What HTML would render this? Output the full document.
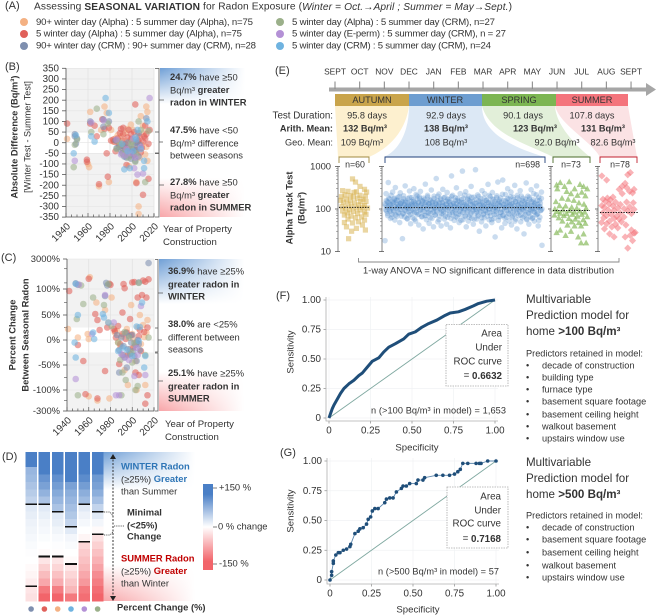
<!DOCTYPE html>
<html><head><meta charset="utf-8"><title>Seasonal variation for radon exposure</title>
<style>
html,body{margin:0;padding:0;background:#fff}
svg{display:block}
text{font-family:"Liberation Sans",sans-serif;fill:#333;dominant-baseline:middle}
.b{font-weight:bold}
</style></head>
<body>
<svg id="fig" width="658" height="616" viewBox="0 0 658 616" xmlns="http://www.w3.org/2000/svg">
<defs>
<linearGradient id="gb" x1="0" y1="0" x2="0" y2="1"><stop offset="0" stop-color="#6f9fd6"/><stop offset="1" stop-color="#fff"/></linearGradient>
<linearGradient id="gr" x1="0" y1="0" x2="0" y2="1"><stop offset="0" stop-color="#fff"/><stop offset="1" stop-color="#f8a5a8"/></linearGradient>
<linearGradient id="gw" x1="0" y1="0" x2="1" y2="0"><stop offset="0" stop-color="#fff" stop-opacity="0"/><stop offset="1" stop-color="#fff"/></linearGradient>
<linearGradient id="cbar" x1="0" y1="0" x2="0" y2="1"><stop offset="0" stop-color="#4a7fc6"/><stop offset=".12" stop-color="#4a7fc6"/><stop offset=".5" stop-color="#fff"/><stop offset=".9" stop-color="#f2646a"/><stop offset="1" stop-color="#f2646a"/></linearGradient>
</defs>

<!-- Panel A -->
<g>
<text x="5" y="6" font-size="11">(A)</text>
<text x="34" y="7" font-size="10.2" textLength="478">Assessing <tspan class="b">SEASONAL VARIATION</tspan> for Radon Exposure (<tspan font-style="italic">Winter = Oct.→April ; Summer = May→Sept.</tspan>)</text>
<circle cx="24" cy="22" r="4" fill="#f4b183"/>
<text x="36" y="22.5" font-size="9.6" fill="#444" textLength="217">90+ winter day (Alpha) : 5 summer day (Alpha), n=75</text>
<circle cx="24" cy="34" r="4" fill="#e0605a"/>
<text x="36" y="34" font-size="9.6" fill="#444" textLength="206">5 winter day (Alpha) : 5 summer day (Alpha), n=75</text>
<circle cx="24" cy="46" r="4" fill="#7e8faf"/>
<text x="36" y="46" font-size="9.6" fill="#444" textLength="220">90+ winter day (CRM) : 90+ summer day (CRM), n=28</text>
<circle cx="280" cy="22" r="4" fill="#9bb08a"/>
<text x="292" y="22.5" font-size="9.6" fill="#444" textLength="203">5 winter day (Alpha) : 5 summer day (CRM), n=27</text>
<circle cx="280" cy="34" r="4" fill="#b491d6"/>
<text x="292" y="34" font-size="9.6" fill="#444" textLength="214">5 winter day (E-perm) : 5 summer day (CRM), n = 27</text>
<circle cx="280" cy="46" r="4" fill="#6fb3e0"/>
<text x="292" y="46" font-size="9.6" fill="#444" textLength="199">5 winter day (CRM) : 5 summer day (CRM), n=24</text>
</g>

<!-- Gradient panels -->
<g>
<rect x="160" y="68" width="85" height="36" fill="url(#gb)"/><rect x="160" y="68" width="85" height="36" fill="url(#gw)"/>
<rect x="160" y="178" width="85" height="39" fill="url(#gr)"/><rect x="160" y="178" width="85" height="39" fill="url(#gw)"/>
<rect x="159" y="259" width="85" height="45" fill="url(#gb)"/><rect x="159" y="259" width="85" height="45" fill="url(#gw)"/>
<rect x="159" y="372" width="85" height="39" fill="url(#gr)"/><rect x="159" y="372" width="85" height="39" fill="url(#gw)"/>
<rect x="103" y="452" width="92" height="38" fill="url(#gb)"/><rect x="103" y="452" width="92" height="38" fill="url(#gw)"/>
<rect x="103" y="565" width="92" height="36" fill="url(#gr)"/><rect x="103" y="565" width="92" height="36" fill="url(#gw)"/>
</g>

<!-- Panel B static -->
<text x="5" y="67" font-size="11">(B)</text>
<g id="plotB"></g>
<text transform="translate(15,137) rotate(-90)" text-anchor="middle" font-size="9.3" class="b">Absolute Difference (Bq/m³)</text>
<text transform="translate(28,137) rotate(-90)" text-anchor="middle" font-size="9.1">[Winter Test - Summer Test]</text>
<path d="M155 68.5H159V132M159 100H164M155 132H159V153H155M159 142H163M155 153.5H159V217H155M159 185H164" fill="none" stroke="#555" stroke-width=".8"/>
<g font-size="9.4">
<text x="170" y="78"><tspan class="b">24.7%</tspan> have ≥50</text>
<text x="170" y="91">Bq/m³ <tspan class="b">greater</tspan></text>
<text x="170" y="103" class="b">radon in WINTER</text>
<text x="170" y="131"><tspan class="b">47.5%</tspan> have &lt;50</text>
<text x="170" y="144">Bq/m³ difference</text>
<text x="170" y="156">between seasons</text>
<text x="170" y="183"><tspan class="b">27.8%</tspan> have ≥50</text>
<text x="170" y="196">Bq/m³ <tspan class="b">greater</tspan></text>
<text x="170" y="208" class="b">radon in SUMMER</text>
</g>
<text font-size="9.6" fill="#555"><tspan x="163" y="229">Year of Property</tspan><tspan x="163" y="242">Construction</tspan></text>

<!-- Panel C static -->
<text x="1" y="258" font-size="11">(C)</text>
<g id="plotC"></g>
<text transform="translate(13,335) rotate(-90)" text-anchor="middle" font-size="9.3" class="b">Percent Change</text>
<text transform="translate(26,335) rotate(-90)" text-anchor="middle" font-size="9.3" class="b">Between Seasonal Radon</text>
<path d="M155 259.5H158V328M158 293H163M155 328H158V352H155M158 340H162M155 353H158V411H155M158 381H163" fill="none" stroke="#555" stroke-width=".8"/>
<g font-size="9.4">
<text x="168" y="272"><tspan class="b">36.9%</tspan> have ≥25%</text>
<text x="168" y="285" class="b">greater radon in</text>
<text x="168" y="297" class="b">WINTER</text>
<text x="168" y="325"><tspan class="b">38.0%</tspan> are &lt;25%</text>
<text x="168" y="338">different between</text>
<text x="168" y="350">seasons</text>
<text x="168" y="374"><tspan class="b">25.1%</tspan> have ≥25%</text>
<text x="168" y="387" class="b">greater radon in</text>
<text x="168" y="399" class="b">SUMMER</text>
</g>
<text font-size="9.6" fill="#555"><tspan x="165" y="424">Year of Property</tspan><tspan x="165" y="437">Construction</tspan></text>

<!-- Panel D static -->
<text x="2" y="457" font-size="11">(D)</text>
<g id="heat" shape-rendering="crispEdges"></g>
<path d="M113 456V598" stroke="#222" stroke-width=".9" stroke-dasharray="2 1.5" fill="none"/>
<path d="M110 459L113 454L116 459ZM110 596L113 601L116 596Z" fill="#222"/>
<path d="M104 512H110L113 516M104 535H110L113 532M114 526H124" fill="none" stroke="#333" stroke-width=".8" stroke-dasharray="1.2 1"/>
<g font-size="9.4">
<text x="121" y="467" style="fill:#2e75b6" class="b">WINTER Radon</text>
<text x="121" y="480">(≥25%) <tspan class="b" style="fill:#2e75b6">Greater</tspan></text>
<text x="121" y="492">than Summer</text>
<text x="127" y="513" class="b">Minimal</text>
<text x="127" y="526" class="b">(&lt;25%)</text>
<text x="127" y="537" class="b">Change</text>
<text x="121" y="559" style="fill:#c00000" class="b">SUMMER Radon</text>
<text x="121" y="572">(≥25%) <tspan class="b" style="fill:#c00000">Greater</tspan></text>
<text x="121" y="584">than Winter</text>
<text x="117" y="608" class="b">Percent Change (%)</text>
</g>
<rect x="203" y="484" width="10" height="86" fill="url(#cbar)"/>
<path d="M213 488H217M213 527H217M213 564H217" stroke="#555" stroke-width=".8"/>
<g font-size="9.4">
<text x="219" y="488">+150 %</text><text x="218" y="527">0 % change</text><text x="219" y="564">-150 %</text>
</g>

<!-- Panel E static -->
<text x="275" y="71" font-size="11">(E)</text>
<g id="timeline"></g>
<g>
<path d="M335 106H409C405 135 385 150 369 157H338Z" fill="#fdf0cf"/>
<path d="M409 106H482C482 130 505 145 545 157H384C400 150 409 130 409 106Z" fill="#dce8f5"/>
<path d="M482 106H555C556 125 575 145 590 157H553C530 145 490 135 482 106Z" fill="#e2efd9"/>
<path d="M555 106H628L637 157H600C590 140 560 125 555 106Z" fill="#fbe2e4"/>
</g>
<g font-size="9.2">
<rect x="335" y="94" width="74" height="12" fill="#c9a44b"/><text x="372" y="100.5" text-anchor="middle">AUTUMN</text>
<rect x="409" y="94" width="73" height="12" fill="#6d9dd0"/><text x="445" y="100.5" text-anchor="middle">WINTER</text>
<rect x="482" y="94" width="74" height="12" fill="#7cb552"/><text x="519" y="100.5" text-anchor="middle">SPRING</text>
<rect x="556" y="94" width="72" height="12" fill="#f4747c"/><text x="592" y="100.5" text-anchor="middle">SUMMER</text>
</g>
<g font-size="9.2">
<text x="333" y="116" text-anchor="end" font-size="9.8">Test Duration:</text>
<text x="333" y="129" text-anchor="end" class="b">Arith. Mean:</text>
<text x="333" y="143" text-anchor="end">Geo. Mean:</text>
<text x="367" y="116" text-anchor="middle">95.8 days</text>
<text x="446" y="116" text-anchor="middle">92.9 days</text>
<text x="523" y="116" text-anchor="middle">90.1 days</text>
<text x="592" y="116" text-anchor="middle">107.8 days</text>
<text x="365" y="129" text-anchor="middle" class="b">132 Bq/m³</text>
<text x="446" y="129" text-anchor="middle" class="b">138 Bq/m³</text>
<text x="535" y="129" text-anchor="middle" class="b">123 Bq/m³</text>
<text x="603" y="129" text-anchor="middle" class="b">131 Bq/m³</text>
<text x="362" y="143" text-anchor="middle">109 Bq/m³</text>
<text x="446" y="143" text-anchor="middle">108 Bq/m³</text>
<text x="557" y="143" text-anchor="middle">92.0 Bq/m³</text>
<text x="613" y="143" text-anchor="middle">82.6 Bq/m³</text>
</g>
<path d="M339 163V157H369V163" fill="none" stroke="#a08a40" stroke-width=".9"/>
<path d="M385 163V157H545V163" fill="none" stroke="#1f3f7a" stroke-width=".9"/>
<path d="M553 163V157H590V163" fill="none" stroke="#4a6b2a" stroke-width=".9"/>
<path d="M600 163V157H637V163" fill="none" stroke="#c0202f" stroke-width=".9"/>
<g id="plotE"></g>
<g font-size="8.8" fill="#444">
<text x="355" y="165" text-anchor="middle">n=60</text>
<text x="540" y="165" text-anchor="end">n=698</text>
<text x="571" y="165" text-anchor="middle">n=73</text>
<text x="620" y="165" text-anchor="middle">n=78</text>
</g>
<text transform="translate(290,208) rotate(-90)" text-anchor="middle" font-size="9.2" class="b">Alpha Track Test</text>
<text transform="translate(302,208) rotate(-90)" text-anchor="middle" font-size="9.2" class="b">(Bq/m³)</text>
<path d="M358.5 258V262H619V258" fill="none" stroke="#888" stroke-width=".9"/>
<text x="363" y="271" font-size="9.3" textLength="251">1-way ANOVA = NO significant difference in data distribution</text>

<!-- Panels F, G -->
<text x="276" y="296" font-size="11">(F)</text>
<text x="280" y="453" font-size="11">(G)</text>
<g id="rocF"></g>
<g id="rocG"></g>
<text transform="translate(291,352) rotate(-90)" text-anchor="middle" font-size="9.6">Sensitivity</text>
<text x="417" y="448" text-anchor="middle" font-size="9.6">Specificity</text>
<text transform="translate(291,511) rotate(-90)" text-anchor="middle" font-size="9.6">Sensitivity</text>
<text x="418" y="610" text-anchor="middle" font-size="9.6">Specificity</text>
<g font-size="9.8">
<rect x="446" y="324.5" width="62" height="61.5" fill="#fff" stroke="#aaa" stroke-width=".8" stroke-dasharray="1.5 1"/>
<text x="502" y="334" text-anchor="end">Area</text><text x="502" y="348" text-anchor="end">Under</text><text x="502" y="362" text-anchor="end">ROC curve</text><text x="502" y="376" text-anchor="end">= <tspan class="b">0.6632</tspan></text>
</g>
<text x="371" y="411" font-size="9.2" fill="#444" textLength="135">n (&gt;100 Bq/m³ in model) = 1,653</text>
<g font-size="9.8">
<rect x="447" y="487" width="61" height="61" fill="#fff" stroke="#aaa" stroke-width=".8" stroke-dasharray="1.5 1"/>
<text x="501" y="497" text-anchor="end">Area</text><text x="501" y="511" text-anchor="end">Under</text><text x="501" y="524" text-anchor="end">ROC curve</text><text x="501" y="539" text-anchor="end">= <tspan class="b">0.7168</tspan></text>
</g>
<text x="378" y="572" font-size="9.2" fill="#444" textLength="121">n (&gt;500 Bq/m³ in model) = 57</text>

<g fill="#333">
<text x="526" y="300" font-size="11.6">Multivariable</text>
<text x="526" y="316" font-size="11.6">Prediction model for</text>
<text x="526" y="332" font-size="11.6">home <tspan class="b">&gt;100 Bq/m³</tspan></text>
<text x="526" y="354" font-size="9.2">Predictors retained in model:</text>
<g font-size="9.2">
<text x="526" y="366">•</text><text x="542" y="366">decade of construction</text>
<text x="526" y="378">•</text><text x="542" y="378">building type</text>
<text x="526" y="390">•</text><text x="542" y="390">furnace type</text>
<text x="526" y="402">•</text><text x="542" y="402">basement square footage</text>
<text x="526" y="415">•</text><text x="542" y="415">basement ceiling height</text>
<text x="526" y="427">•</text><text x="542" y="427">walkout basement</text>
<text x="526" y="439">•</text><text x="542" y="439">upstairs window use</text>
</g>
</g>
<g fill="#333">
<text x="526" y="463" font-size="11.6">Multivariable</text>
<text x="526" y="479" font-size="11.6">Prediction model for</text>
<text x="526" y="495" font-size="11.6">home <tspan class="b">&gt;500 Bq/m³</tspan></text>
<text x="526" y="516" font-size="9.2">Predictors retained in model:</text>
<g font-size="9.2">
<text x="526" y="528">•</text><text x="542" y="528">decade of construction</text>
<text x="526" y="540">•</text><text x="542" y="540">basement square footage</text>
<text x="526" y="553">•</text><text x="542" y="553">basement ceiling height</text>
<text x="526" y="566">•</text><text x="542" y="566">walkout basement</text>
<text x="526" y="578">•</text><text x="542" y="578">upstairs window use</text>
</g>
</g>
</svg>

<script>
// ---------- Chart data ----------
const months = ['SEPT','OCT','NOV','DEC','JAN','FEB','MAR','APR','MAY','JUN','JUL','AUG','SEPT'];
const yearTicks = [1940,1960,1980,2000,2020];
const absTicks = [350,300,250,200,150,100,50,0,-50,-100,-150,-200,-250,-300,-350];
const pctTicks = [3000,100,50,0,-50,-100,-300];
const seriesColors = {peach:'#f4b183',red:'#e0605a',slate:'#7e8faf',green:'#9bb08a',purple:'#b491d6',blue:'#6fb3e0'};

const absPeach = [[1941,18],[1962,145],[1960,-100],[1961,-115],[1970,-205],[1975,170],[1977,140],[1981,60],[1985,20],[1988,-5],[1990,30],[1992,-40],[1994,45],[1996,-5],[1997,-110],[1999,85],[2001,60],[2003,-30],[2004,-185],[2006,-300],[2006,-335],[2007,-70],[2008,125],[2010,80],[2013,170],[2014,145],[2014,-85],[2013,-20],[1979,-185],[1972,60],[1983,5],[1987,35],[1991,-25],[1994,10],[1996,65],[1998,-45],[2000,20],[2002,-15],[2005,35],[2009,-10],[2011,50],[2012,-55]];
const absRed = [[1941,90],[1959,-80],[1959,-90],[1962,90],[1966,80],[1968,30],[1970,-195],[1973,110],[1975,65],[1977,-50],[1978,-160],[1979,70],[1981,10],[1984,5],[1987,20],[1989,45],[1992,70],[1993,-20],[1995,-105],[1997,60],[1999,40],[2001,-60],[2003,180],[2004,-190],[2006,10],[2008,-45],[2010,-245],[2011,30],[2012,20],[2012,80],[2015,-170],[2016,60],[2015,-5],[1985,-40],[1991,10],[1983,15],[1988,-10],[1990,65],[1992,40],[1994,-5],[1996,25],[1998,-30],[1999,15],[2002,50],[2004,-35],[2005,5],[2007,30],[2009,-25],[2010,5],[2013,40]];
const absSlate = [[1948,40],[1948,30],[1949,-5],[1950,20],[1962,100],[1974,110],[1974,75],[1979,100],[1985,10],[1988,-20],[1991,-50],[1993,-65],[1995,-70],[1996,0],[1998,-60],[2000,-30],[2002,-55],[2003,-85],[2004,0],[2006,45],[2007,-10],[2013,115],[1986,-25],[1990,-35],[1992,-15],[1994,-45],[1997,-25],[1999,-75],[2001,-5],[2003,-35],[2005,-20],[2006,-65]];
const absGreen = [[1947,-115],[1948,-10],[1950,15],[1963,50],[1968,160],[1974,40],[1978,90],[1986,-30],[1990,-10],[1994,-40],[1997,-70],[2000,5],[2003,-90],[2006,100],[2008,60],[2012,-185],[2015,55],[1988,5],[1992,-55],[1999,-15],[2004,-50]];
const absBlue = [[1947,-50],[1949,35],[1963,30],[1966,5],[1976,210],[1979,140],[1993,-125],[1998,-120],[2001,-40],[2003,25],[2005,60],[2011,-120],[2011,-85],[2014,100],[1991,-5],[1996,-40],[2004,15],[2008,-30]];
const absPurple = [[1948,-85],[1963,95],[1974,105],[1986,15],[1990,-55],[1994,-60],[2001,20],[2002,-120],[2005,-150],[2008,-20],[2010,-145],[2016,210],[1995,-30],[1999,-50],[2003,-70]];

const pctPeach = [[1941,22],[1950,5],[1959,12],[1960,2],[1961,380],[1967,75],[1975,60],[1978,35],[1981,85],[1984,15],[1987,-5],[1990,8],[1993,-60],[1996,-90],[1999,70],[2001,2],[2004,-100],[2007,50],[2010,30],[2013,15],[2014,40],[1960,-160],[1968,-200],[1979,-180],[2012,-90],[1986,18],[1989,-12],[1992,-30],[1995,22],[1998,-18],[2000,12],[2003,-42],[2005,25],[2008,-8],[2011,6]];
const pctRed = [[1942,98],[1950,-10],[1955,-42],[1960,320],[1966,52],[1968,40],[1970,20],[1975,-62],[1977,25],[1979,180],[1980,160],[1983,22],[1985,5],[1988,-48],[1991,55],[1992,175],[1993,110],[1995,15],[1998,42],[2000,210],[2002,220],[2003,-65],[2005,85],[2006,-70],[2007,20],[2009,90],[2010,260],[2012,230],[2013,85],[2014,25],[2015,300],[2014,-150],[2012,-230],[1968,-180],[1957,-140],[1984,18],[1987,28],[1989,-8],[1991,12],[1994,2],[1996,-30],[1999,10],[2001,-15],[2004,-5],[2006,8],[2008,-22],[2011,16]];
const pctSlate = [[1948,190],[1950,160],[1976,200],[1977,150],[1975,88],[1986,10],[1988,-20],[1991,-30],[1993,-35],[1995,-55],[1997,8],[1999,-5],[2001,-22],[2003,-10],[2005,0],[2007,-20],[2006,210],[2015,1900],[1988,-65],[1990,5],[1992,-12],[1994,14],[1996,-18],[1998,-28],[2000,10],[2002,-32],[2004,-42],[2006,-8]];
const pctGreen = [[1949,42],[1953,150],[1955,72],[1964,85],[1974,70],[1978,175],[1981,28],[1987,-5],[1989,-40],[1991,-65],[1994,-80],[1997,5],[2000,-45],[2003,-100],[2005,-92],[2006,200],[2012,-30],[2015,5],[1950,-150],[1990,-150],[1993,16],[1999,-25],[2002,-6]];
const pctBlue = [[1947,-5],[1948,180],[1950,50],[1948,-35],[1964,15],[1965,2],[1973,52],[1974,45],[1978,35],[1987,-22],[1995,-20],[2004,27],[2007,26],[2009,75],[2012,-32],[2011,-55],[1991,-15],[2000,-32],[2006,-2]];
const pctPurple = [[1948,-78],[1951,165],[1963,12],[1975,90],[1983,35],[1990,-28],[1993,-35],[2002,-72],[2005,-30],[2008,68],[2012,-70],[1985,-150],[1988,-150],[1997,-40],[2004,-16]];

const heatCol1 = [150,150,85,80,70,60,50,25,20,15,12,8,5,2,0,-5,-10,-18,-25,-30];
const heatCol2 = [150,150,150,125,110,90,70,25,18,12,8,4,0,-4,-25,-45,-65,-85,-130,-150];
const heatCol3 = [150,150,150,130,115,100,85,70,25,20,12,6,2,-2,-25,-40,-60,-80,-125,-150];
const heatCol4 = [150,150,150,150,110,95,85,75,65,50,25,10,5,0,-5,-25,-40,-55,-70,-130];
const heatCol5 = [150,150,150,135,115,95,80,25,15,8,0,-10,-40,-50,-60,-70,-85,-100,-130,-140];
const heatCol6 = [150,150,150,120,110,95,75,50,25,10,-5,-30,-45,-60,-75,-90,-110,-125,-140,-150];
const heatDotOrder = ['slate','red','peach','blue','purple','green'];

const autumnPts = [[45,510],[55,430],[70,340],[85,290],[12,270],[30,260],[58,255],[92,250],[50,245],[20,215],[70,210],[38,205],[88,200],[8,195],[48,190],[62,180],[25,170],[80,170],[5,160],[38,155],[72,150],[90,150],[15,145],[52,140],[30,130],[65,125],[85,120],[10,115],[42,115],[78,110],[22,105],[58,105],[95,105],[35,95],[70,95],[12,90],[48,88],[85,85],[28,80],[62,78],[90,75],[18,72],[40,68],[75,65],[55,62],[30,58],[85,55],[65,50],[18,48],[45,47],[78,42],[25,38],[58,35],[88,32],[42,30],[32,20]];
const winterVals = [18,120,230,90,150,70,420,180,95,130,60,210,110,75,250,140,85,170,55,320,105,160,68,125,190,80,115,48,240,135,98,155,20,76,205,122,65,350,145,88,112,58,175,102,72,265,130,45,92,185,118,62,150,300,82,128,52,220,108,170,74,138,42,195,96,260,124,66,155,88,34,180,114,70,385,142,56,100,210,84,132,46,165,78,118,280,60,148,94,38,200,110,72,135,520,86,160,50,122,225,68,104,175,40,90,140,290,76,116,58,190,98,128,44,245,64,152,108,82,170,36,126,600,92,210,70,136,54,112,185,80,315,100,62,158,120,48,88,230,74,142,106,780,56,178,94,130,66,255,38,116,84,165,52,200,102,72,148,340,60,124,90,44,190,110,78,840,138,58,96,215,68,154,30,120,86,175,50,270,104,74,132,62,228,92,40,160,114,82,380,144,56,100,195,70,126,48,245,88,168,60,108,22,136,76,205,98,430,54,150,118,66,182,84,36,122,480,72,158,94,46,220,110,64,140,300,80,172,52,128,90,250,42,116,68,190,102,76,360,148,58,96,34,210,124,70,162,86,270,50,134,106,62,180,92,26,152,112,74,410,56,126,200,82,44,170,98,66,285,118,60,146,88,230,52,130,104,72,350,160,78,40,190,114,64,138,94,250,14];
const winterVals2 = [132,96,158,110,78,144,118,170,88,126,102,64,152,136,92,180,114,72,140,106,160,84,122,196,98,134,68,148,112,80,174,128,94,156,108,60,142,120,86,188,116,74,150,130,100,166,90,58,138,124,82,204,104,146,76,178,118,96,134,66,154,110,88,168,126,70,144,102,192,80,132,114,62,160,98,140,122,84,176,106,72,148,128,92,200,116,56,136,100,164,78,142,120,86,184,108,68,152,130,94,170,112,74,146,124,60,196,104,82,138,118,90,158,66,134,110,178,76,150,126,98,54,166,116,84,142,102,212,70,132,122,92,174,108,64,156,128,80,188,96,146,114,58,136,100,168,86,120,72,198,130,94,152,106,62,140,118,78,180,124,90,160,110,68,144,102,208,82,134,116,56,172,98,126,74,150,112,88,186,104,138,66,162,120,84,142,96,222,70,128,108,60,154,122,92,176,114,76,146,100,194,130,64,136,86,166,118,52,148,106,80,182,124,94,140,110,72,202,98,156,116,68,132,88,170,104,58,144,126,78,190,112,90,150,102,62,164,120,84,138,96,216,74,128,108,54,158,116,92,178,100];
const springPts = [[20,420],[45,440],[10,370],[32,340],[75,380],[85,340],[95,300],[12,300],[60,300],[38,260],[80,250],[50,230],[68,210],[90,205],[25,180],[42,170],[58,160],[8,150],[72,140],[86,130],[18,120],[35,118],[52,110],[66,105],[92,105],[5,100],[28,96],[46,92],[74,90],[12,88],[60,85],[88,85],[20,80],[38,78],[54,75],[80,75],[4,72],[30,70],[68,68],[95,66],[16,62],[44,60],[62,58],[84,56],[26,52],[52,50],[72,48],[90,46],[40,42],[60,40],[78,40],[20,32],[50,30],[10,28],[85,26],[35,24],[70,22],[78,16],[92,16]];
const summerPts = [[5,600],[82,720],[75,640],[18,480],[68,400],[60,340],[72,320],[92,290],[52,290],[80,260],[88,240],[60,230],[35,190],[20,180],[8,170],[28,165],[15,150],[42,145],[72,145],[90,140],[25,132],[55,128],[5,120],[35,118],[80,112],[12,110],[48,105],[65,102],[92,98],[22,95],[38,92],[75,90],[8,82],[55,80],[85,78],[30,75],[18,70],[45,68],[65,65],[10,62],[38,60],[52,58],[26,52],[58,50],[4,48],[18,45],[42,44],[70,42],[32,38],[48,36],[12,34],[85,32],[95,28],[92,27],[26,26],[82,24],[38,22],[68,22],[88,18],[75,12]];
const geoMeans = [109,108,92,82.6];
const logTicks = [1000,100,10];

const rocFx = [0,.01,.02,.03,.05,.07,.09,.12,.15,.18,.2,.23,.26,.3,.33,.36,.4,.45,.48,.52,.56,.6,.65,.7,.73,.78,.82,.87,.9,.95,1];
const rocFy = [0,.04,.08,.11,.16,.21,.25,.29,.32,.36,.38,.43,.48,.51,.56,.6,.63,.67,.71,.73,.77,.8,.83,.87,.89,.9,.92,.95,.97,.99,1];
const rocGx = [0,.01,.01,.02,.02,.035,.05,.06,.08,.1,.12,.125,.15,.17,.18,.2,.22,.23,.245,.255,.27,.29,.33,.34,.36,.38,.4,.43,.44,.46,.48,.52,.53,.56,.57,.64,.68,.72,.75,.77,.785,.8,.83,.88,.9,.91,.95,1];
const rocGy = [0,.04,.07,.14,.16,.21,.23,.23,.25,.26,.28,.3,.39,.41,.43,.44,.47,.51,.53,.58,.6,.6,.65,.68,.69,.69,.74,.77,.79,.79,.81,.81,.84,.84,.86,.88,.88,.88,.89,.91,.93,.98,.98,.98,.98,.98,1,1];
const rocTicks = [0,.25,.5,.75,1];
const rocLabels = ['0','0.25','0.50','0.75','1.00'];

// ---------- Helpers ----------
const NS = 'http://www.w3.org/2000/svg';
function mk(parent, tag, attrs, txt){
  const e = document.createElementNS(NS, tag);
  for (const k in attrs) e.setAttribute(k, attrs[k]);
  if (txt !== undefined) e.textContent = txt;
  parent.appendChild(e);
  return e;
}
function named(e, name){
  
  
  return e;
}

// ---------- Year-based scatter panels ----------
function yearPanel(id, xLeft, xRight, yTop, yBottom, yScale, ticks, tickFmt, bandA, bandB, minor, groups, labelDrop){
  const g = document.getElementById(id);
  const xs = y => xLeft + (y - 1940) / 80 * (xRight - xLeft);
  named(mk(g,'rect',{x:xLeft,y:yTop,width:xRight-xLeft,height:yBottom-yTop,fill:'#f2f2f2'}),'plot-background');
  named(mk(g,'rect',{x:xLeft,y:yScale(bandA),width:xRight-xLeft,height:yScale(bandB)-yScale(bandA),fill:'#fff'}),'low-difference-band');
  yearTicks.forEach(t=>{ named(mk(g,'path',{d:`M${xs(t)} ${yTop}V${yBottom}`,stroke:'#e0e0e0','stroke-width':.7}),'year-gridline'); });
  minor.forEach(t=>{ named(mk(g,'path',{d:`M${xLeft-3} ${yScale(t)}H${xLeft}`,stroke:'#666','stroke-width':.7}),'y-minor-tick'); });
  ticks.forEach(t=>{
    named(mk(g,'path',{d:`M${xLeft} ${yScale(t)}H${xRight}`,stroke:'#e4e4e4','stroke-width':.6}),'value-gridline');
    named(mk(g,'path',{d:`M${xLeft-4} ${yScale(t)}H${xLeft}`,stroke:'#555','stroke-width':.8}),'y-tick');
    named(mk(g,'text',{x:xLeft-7,y:yScale(t)+.5,'text-anchor':'end','font-size':id==='plotB'?9.8:9.4,fill:'#444'},tickFmt(t)),'y-tick-label');
  });
  groups.forEach(([arr,col])=>arr.forEach(p=>{
    const c = mk(g,'circle',{cx:xs(p[0]),cy:yScale(p[1]),r:3.3,fill:seriesColors[col],'fill-opacity':.58});
    
    
  }));
  named(mk(g,'path',{d:`M${xLeft} ${yTop}V${yBottom}H${xRight}V${yBottom-3}`,stroke:'#555','stroke-width':.8,fill:'none'}),'axis-lines');
  for(let y=1940;y<=2020;y+=5){
    named(mk(g,'path',{d:`M${xs(y)} ${yBottom}V${yBottom-(y%20===0?4:2.5)}`,stroke:'#555','stroke-width':.7}),'x-tick');
  }
  yearTicks.forEach(t=>{
    const xx = xs(t)+3, yy = yBottom+labelDrop;
    named(mk(g,'text',{x:xx,y:yy,transform:`rotate(-45 ${xx} ${yy})`,'text-anchor':'end','font-size':9.8,fill:'#444'},String(t)),'x-tick-label');
  });
}
const absY = v => 142.7 - v / 350 * 74.4;
yearPanel('plotB',66,154,68.3,217,absY,absTicks,t=>String(t),50,-50,[],[
  [absPeach,'peach'],[absRed,'red'],[absSlate,'slate'],[absGreen,'green'],[absPurple,'purple'],[absBlue,'blue']],8);

function pctY(v){
  if (v >= 100) return 289 - (Math.log10(v) - 2) / (Math.log10(3000) - 2) * 30;
  if (v >= -100) return 340 - v / 100 * 50;
  return 390 + (-v - 100) / 200 * 21;
}
yearPanel('plotC',67,154,259,411,pctY,pctTicks,t=>t+'%',25,-25,[75,25,-25,-75,-200,200,1000],[
  [pctPeach,'peach'],[pctRed,'red'],[pctSlate,'slate'],[pctGreen,'green'],[pctPurple,'purple'],[pctBlue,'blue']],8);

// ---------- Heatmap ----------
const heatCols = [heatCol1,heatCol2,heatCol3,heatCol4,heatCol5,heatCol6];
const heat = document.getElementById('heat');
const heatX = i => 25.3 + i * 13.3;
const heatW = 11.6, heatTop = 452, heatBottom = 601;
function heatColor(v){
  const t = Math.min(1, Math.abs(v) / 150), c = v >= 0 ? [74,127,198] : [242,100,106];
  const f = k => Math.round(255 + (c[k] - 255) * t);
  return `rgb(${f(0)},${f(1)},${f(2)})`;
}
heatCols.forEach((col,i)=>{
  const h = (heatBottom - heatTop) / col.length;
  col.forEach((v,j)=>{
    const r = mk(heat,'rect',{x:heatX(i),y:heatTop+j*h,width:heatW,height:h+.5,fill:heatColor(v)});
    
    
  });
  const up = col.findIndex(v=>v<=25), dn = col.findIndex(v=>v<=-25);
  [up,dn].forEach(k=>{
    const m = mk(heat,'rect',{x:heatX(i),y:heatTop+k*h-.6,width:heatW,height:1.6,fill:'#111'});
    
    
  });
  const d = mk(heat,'circle',{cx:heatX(i)+heatW/2,cy:609,r:2.8,fill:seriesColors[heatDotOrder[i]],'shape-rendering':'auto'});
  
  
});

// ---------- Timeline ----------
const tl = document.getElementById('timeline');
named(mk(tl,'path',{d:'M329 89.5H648',stroke:'#a6a6a6','stroke-width':4}),'timeline-shaft');
named(mk(tl,'path',{d:'M646 83L656 89.5L646 96Z',fill:'#a6a6a6'}),'timeline-arrowhead');
months.forEach((m,i)=>{
  const x = 335 + i * 24.67;
  named(mk(tl,'path',{d:`M${x} 81.5V89`,stroke:'#8c8c8c','stroke-width':1.1}),'month-tick');
  named(mk(tl,'text',{x:x,y:72.5,'text-anchor':'middle','font-size':8.4},m),'month-label');
});

// ---------- Panel E scatter ----------
const pe = document.getElementById('plotE');
const logY = v => 209 - Math.log10(v / 100) * 42.5;
const toPct = arr => arr.map((v,i)=>[i/(arr.length-1)*100,v]);
const ePanels = [
  {x0:339,x1:369,axis:338,pts:autumnPts,color:'#d6ae45',shape:'square'},
  {x0:385,x1:542,axis:382,pts:toPct(winterVals).concat(toPct(winterVals2)),color:'#4f8ccb',shape:'circle'},
  {x0:553,x1:589,axis:551,pts:springPts,color:'#7fb651',shape:'triangle'},
  {x0:600,x1:637,axis:598,pts:summerPts,color:'#f4747c',shape:'diamond'}
];
const axisMinor = [20,30,40,50,60,70,80,90,200,300,400,500,600,700,800,900];
ePanels.forEach((p,idx)=>{
  const xs = f => p.x0 + f / 100 * (p.x1 - p.x0);
  p.pts.forEach(([f,v])=>{
    const x = xs(f), y = logY(v);
    let el;
    if (p.shape === 'circle') el = mk(pe,'circle',{cx:x,cy:y,r:2.8,fill:p.color,'fill-opacity':.3});
    else if (p.shape === 'square') el = mk(pe,'rect',{x:x-2.6,y:y-2.6,width:5.2,height:5.2,fill:p.color,'fill-opacity':.5});
    else if (p.shape === 'triangle') el = mk(pe,'path',{d:`M${x} ${y-3.2}L${x+3.2} ${y+2.6}H${x-3.2}Z`,fill:p.color,'fill-opacity':.65});
    else el = mk(pe,'path',{d:`M${x} ${y-3.6}L${x+3.6} ${y}L${x} ${y+3.6}L${x-3.6} ${y}Z`,fill:p.color,'fill-opacity':.55});
    
    
  });
  const a = p.axis;
  named(mk(pe,'path',{d:`M${a+2} ${logY(1000)}H${a}V${logY(10)}H${a+2}`,stroke:'#777','stroke-width':.9,fill:'none'}),'log-axis');
  logTicks.forEach(t=>{
    named(mk(pe,'path',{d:`M${a-3} ${logY(t)}H${a}`,stroke:'#555','stroke-width':.8}),'log-major-tick');
  });
  axisMinor.forEach(t=>{
    named(mk(pe,'path',{d:`M${a-2} ${logY(t)}H${a}`,stroke:'#666','stroke-width':.5}),'log-minor-tick');
  });
  const ym = logY(geoMeans[idx]);
  named(mk(pe,'path',{d:`M${p.x0} ${ym}H${p.x1+1}`,stroke:'#111','stroke-width':1,'stroke-dasharray':'1.3 1.3'}),'geometric-mean-line');
});
logTicks.forEach(t=>{
  named(mk(pe,'text',{x:331,y:logY(t)+.5,'text-anchor':'end','font-size':9.4,fill:'#444'},String(t)),'log-tick-label');
});

// ---------- ROC panels ----------
function roc(id,x0,x1,y1,y0,axisLeft,axisBottom,xs,ys,thick){
  const g = document.getElementById(id);
  const X = v => x0 + v * (x1 - x0), Y = v => y0 - v * (y0 - y1);
  rocTicks.forEach((t,i)=>{
    named(mk(g,'path',{d:`M${X(t)} ${y1-3}V${axisBottom}`,stroke:'#f0f2f4','stroke-width':.7}),'x-gridline');
    named(mk(g,'path',{d:`M${axisLeft} ${Y(t)}H${x1+3}`,stroke:'#f0f2f4','stroke-width':.7}),'y-gridline');
    named(mk(g,'path',{d:`M${X(t)} ${axisBottom}v2.5`,stroke:'#888','stroke-width':.7}),'x-tick');
    named(mk(g,'path',{d:`M${axisLeft-2.5} ${Y(t)}H${axisLeft}`,stroke:'#888','stroke-width':.7}),'y-tick');
    named(mk(g,'text',{x:X(t),y:axisBottom+10,'text-anchor':'middle','font-size':9.8,fill:'#444'},rocLabels[i]),'x-tick-label');
    named(mk(g,'text',{x:axisLeft-5,y:Y(t)+.5,'text-anchor':'end','font-size':9.8,fill:'#444'},rocLabels[i]),'y-tick-label');
  });
  named(mk(g,'path',{d:`M${axisLeft} ${y1-3}V${axisBottom}H${x1+3}`,stroke:'#b0b0b0','stroke-width':.8,fill:'none'}),'axis-lines');
  named(mk(g,'path',{d:`M${X(0)} ${Y(0)}L${X(1)} ${Y(1)}`,stroke:'#7fa8a0','stroke-width':.9}),'reference-diagonal');
  const d = xs.map((v,i)=>(i?'L':'M')+X(v)+' '+Y(ys[i])).join('');
  named(mk(g,'path',{d:d,fill:'none',stroke:thick?'#1f4e79':'#5d87ad','stroke-width':thick?3:.9,'stroke-linejoin':'round'}),'roc-curve');
  if(!thick) xs.forEach((v,i)=>{
    const c = mk(g,'circle',{cx:X(v),cy:Y(ys[i]),r:1.8,fill:'#1f4e79'});
    
    
  });
}
roc('rocF',329,495,300,418,326,421,rocFx,rocFy,true);
roc('rocG',330,496,461,580,327,584,rocGx,rocGy,false);
</script>
</body></html>
